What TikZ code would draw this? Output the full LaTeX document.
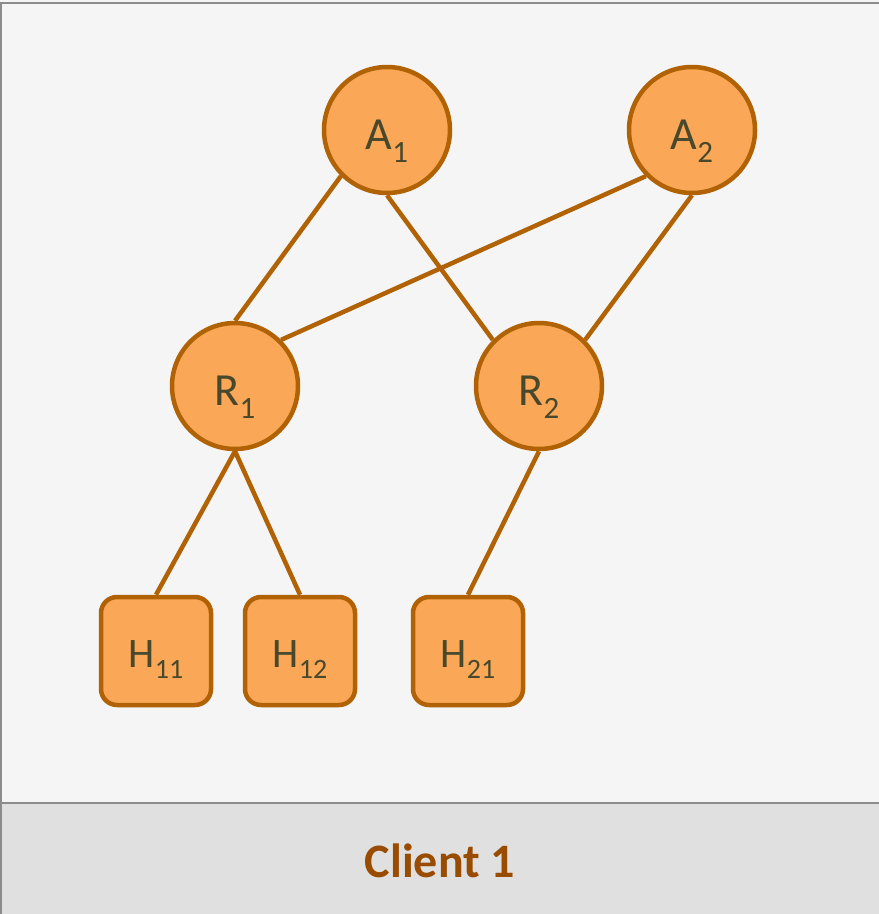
\documentclass[tikz,border=0pt]{standalone}
\usepackage{fontspec}
\setmainfont{Carlito}
\definecolor{panelbg}{RGB}{245,245,245}
\definecolor{footbg}{RGB}{224,224,224}
\definecolor{framegray}{RGB}{140,140,140}
\definecolor{nodefill}{RGB}{250,168,87}
\definecolor{nodeline}{RGB}{176,98,4}
\definecolor{nodetext}{RGB}{72,72,44}
\definecolor{labeltext}{RGB}{153,76,0}
\newcommand{\nlabel}[2]{\fontsize{46}{46}\selectfont #1\raisebox{-13pt}{\fontsize{31}{31}\selectfont #2}}
\newcommand{\hlabel}[2]{\fontsize{42}{42}\selectfont #1\raisebox{-11pt}{\fontsize{28}{28}\selectfont #2}}
\tikzset{
  roundnode/.style={circle, draw=nodeline, fill=nodefill, line width=4.5pt,
    minimum size=126pt, inner sep=0pt, text=nodetext,
    text height=51pt, text depth=13pt},
  hostnode/.style={rectangle, rounded corners=16pt, draw=nodeline, fill=nodefill,
    line width=4.5pt, minimum width=110pt, minimum height=108pt, inner sep=0pt,
    text=nodetext, text height=45pt, text depth=12pt},
  link/.style={draw=nodeline, line width=4.5pt}
}
\begin{document}
\begin{tikzpicture}[x=1pt, y=-1pt]
  % canvas and panels
  \useasboundingbox (0,0) rectangle (879,914);
  \fill[panelbg] (0,0) rectangle (879,803);
  \fill[footbg] (0,803) rectangle (879,914);
  \draw[framegray, line width=2.2pt] (1,914) -- (1,3) -- (879,3);
  \draw[framegray, line width=2.2pt] (0,803) -- (879,803);

  % tree nodes
  \node[roundnode] (A1) at (387,130) {\nlabel{A}{1}};
  \node[roundnode] (A2) at (692,130) {\nlabel{A}{2}};
  \node[roundnode] (R1) at (235,386) {\nlabel{R}{1}};
  \node[roundnode] (R2) at (539,386) {\nlabel{R}{2}};
  \node[hostnode] (H11) at (156,651) {\hlabel{H}{11}};
  \node[hostnode] (H12) at (300,651) {\hlabel{H}{12}};
  \node[hostnode] (H21) at (468,651) {\hlabel{H}{21}};

  % links between the levels
  \path[link] (A1.225) -- (R1.north);
  \path[link] (A1.south) -- (R2.135);
  \path[link] (A2.225) -- (R1.45);
  \path[link] (A2.south) -- (R2.45);
  \path[link] (R1.south) -- (H11.north);
  \path[link] (R1.south) -- (H12.north);
  \path[link] (R2.south) -- (H21.north);

  % footer caption
  \node[text=labeltext, font=\bfseries\fontsize{48}{48}\selectfont] (cap) at (440,861) {Client 1};
\end{tikzpicture}
\end{document}
